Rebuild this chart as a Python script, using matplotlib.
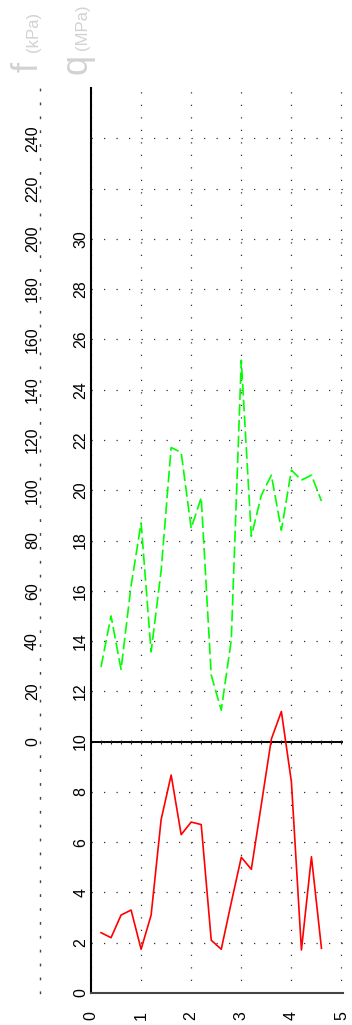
import matplotlib
matplotlib.use("Agg")
import matplotlib.pyplot as plt

plt.rcParams['font.family'] = ['Liberation Sans', 'DejaVu Sans']

## readings, x every 0.2
x_vals = [0.2, 0.4, 0.6, 0.8, 1.0, 1.2, 1.4, 1.6, 1.8, 2.0, 2.2, 2.4,
          2.6, 2.8, 3.0, 3.2, 3.4, 3.6, 3.8, 4.0, 4.2, 4.4, 4.6]
red_vals = [2.4, 2.2, 3.1, 3.3, 1.74, 3.1, 6.9, 8.67, 6.3, 6.8, 6.7, 2.1,
            1.74, 3.6, 5.4, 4.92, 7.5, 10.1, 11.2, 8.4, 1.71, 5.42, 1.78]
green_vals = [12.97, 15.0, 12.87, 16.2, 18.7, 13.57, 16.8, 21.7, 21.5, 18.48, 19.71, 12.64,
              11.25, 14.04, 25.17, 18.17, 19.8, 20.6, 18.41, 20.8, 20.4, 20.6, 19.57]

x_ticks = [0, 1, 2, 3, 4, 5]
q_ticks = list(range(0, 35, 2))
q_labels = [str(t) if t <= 30 else '' for t in q_ticks]
f_ticks = list(range(0, 241, 20))

W, H = 352, 1025
fig = plt.figure(figsize=(W / 100, H / 100), dpi=100)
ax = fig.add_axes([91 / W, 1 - 993 / H, (343 - 91) / W, (993 - 88) / H])

dots = (0, (1, 9))
fs = 11.5
ax.set_xlim(0, 5.03)
ax.set_ylim(0, 36)
ax.set_xticks(x_ticks)
ax.set_yticks(q_ticks)
ax.set_yticklabels(q_labels)
ax.grid(True, color='#333333', linestyle=dots, linewidth=0.9)
ax.set_axisbelow(True)

for s in ['top', 'right']:
    ax.spines[s].set_visible(False)
ax.spines['left'].set_linewidth(1.5)
ax.spines['bottom'].set_linewidth(1.5)
ax.spines['bottom'].set_color('#444444')

ax.tick_params(axis='x', length=0, pad=13, labelsize=fs, labelrotation=90)
ax.tick_params(axis='y', length=0, pad=2, labelsize=fs, labelrotation=90)
for lbl in ax.get_yticklabels():
    lbl.set_va('center')

## line at q = 10 with small ticks
ax.axhline(10, color='black', linewidth=1.4)
tick_x = [i * 0.2 for i in range(26)]
ax.plot(tick_x, [10] * len(tick_x), linestyle='none', marker='|', markersize=3,
        color='#222222', markeredgewidth=0.8)

ax.plot(x_vals, green_vals, color='#00ff00', linewidth=1.2, linestyle=(0, (7, 2.5)))
ax.plot(x_vals, red_vals, color='#ff0000', linewidth=1.2)

## outer f axis (dotted spine)
sec = ax.secondary_yaxis((40 - 91) / (343 - 91),
                         functions=(lambda v: (v - 10) * 10, lambda f: f / 10 + 10))
sec.set_yticks(f_ticks)
sec.spines['right'].set_visible(False)
sec.spines['left'].set_linestyle(dots)
sec.spines['left'].set_linewidth(1.0)
sec.spines['left'].set_color('#444444')
sec.tick_params(axis='y', length=0, pad=0, labelsize=fs, labelrotation=90)
for lbl in sec.get_yticklabels():
    lbl.set_va('center')

## faded axis names at the top
grey = '#d2d2d2'
def top_label(px, py, s, size):
    fig.text(px / W, 1 - py / H, s, rotation=90, rotation_mode='anchor',
             ha='left', va='baseline', fontsize=size, color=grey)

top_label(37, 72, 'f', 26)
top_label(38, 52, '(kPa)', 12)
top_label(86, 74, 'q', 26)
top_label(87, 50, '(MPa)', 12)

fig.savefig('out.png', dpi=100)
